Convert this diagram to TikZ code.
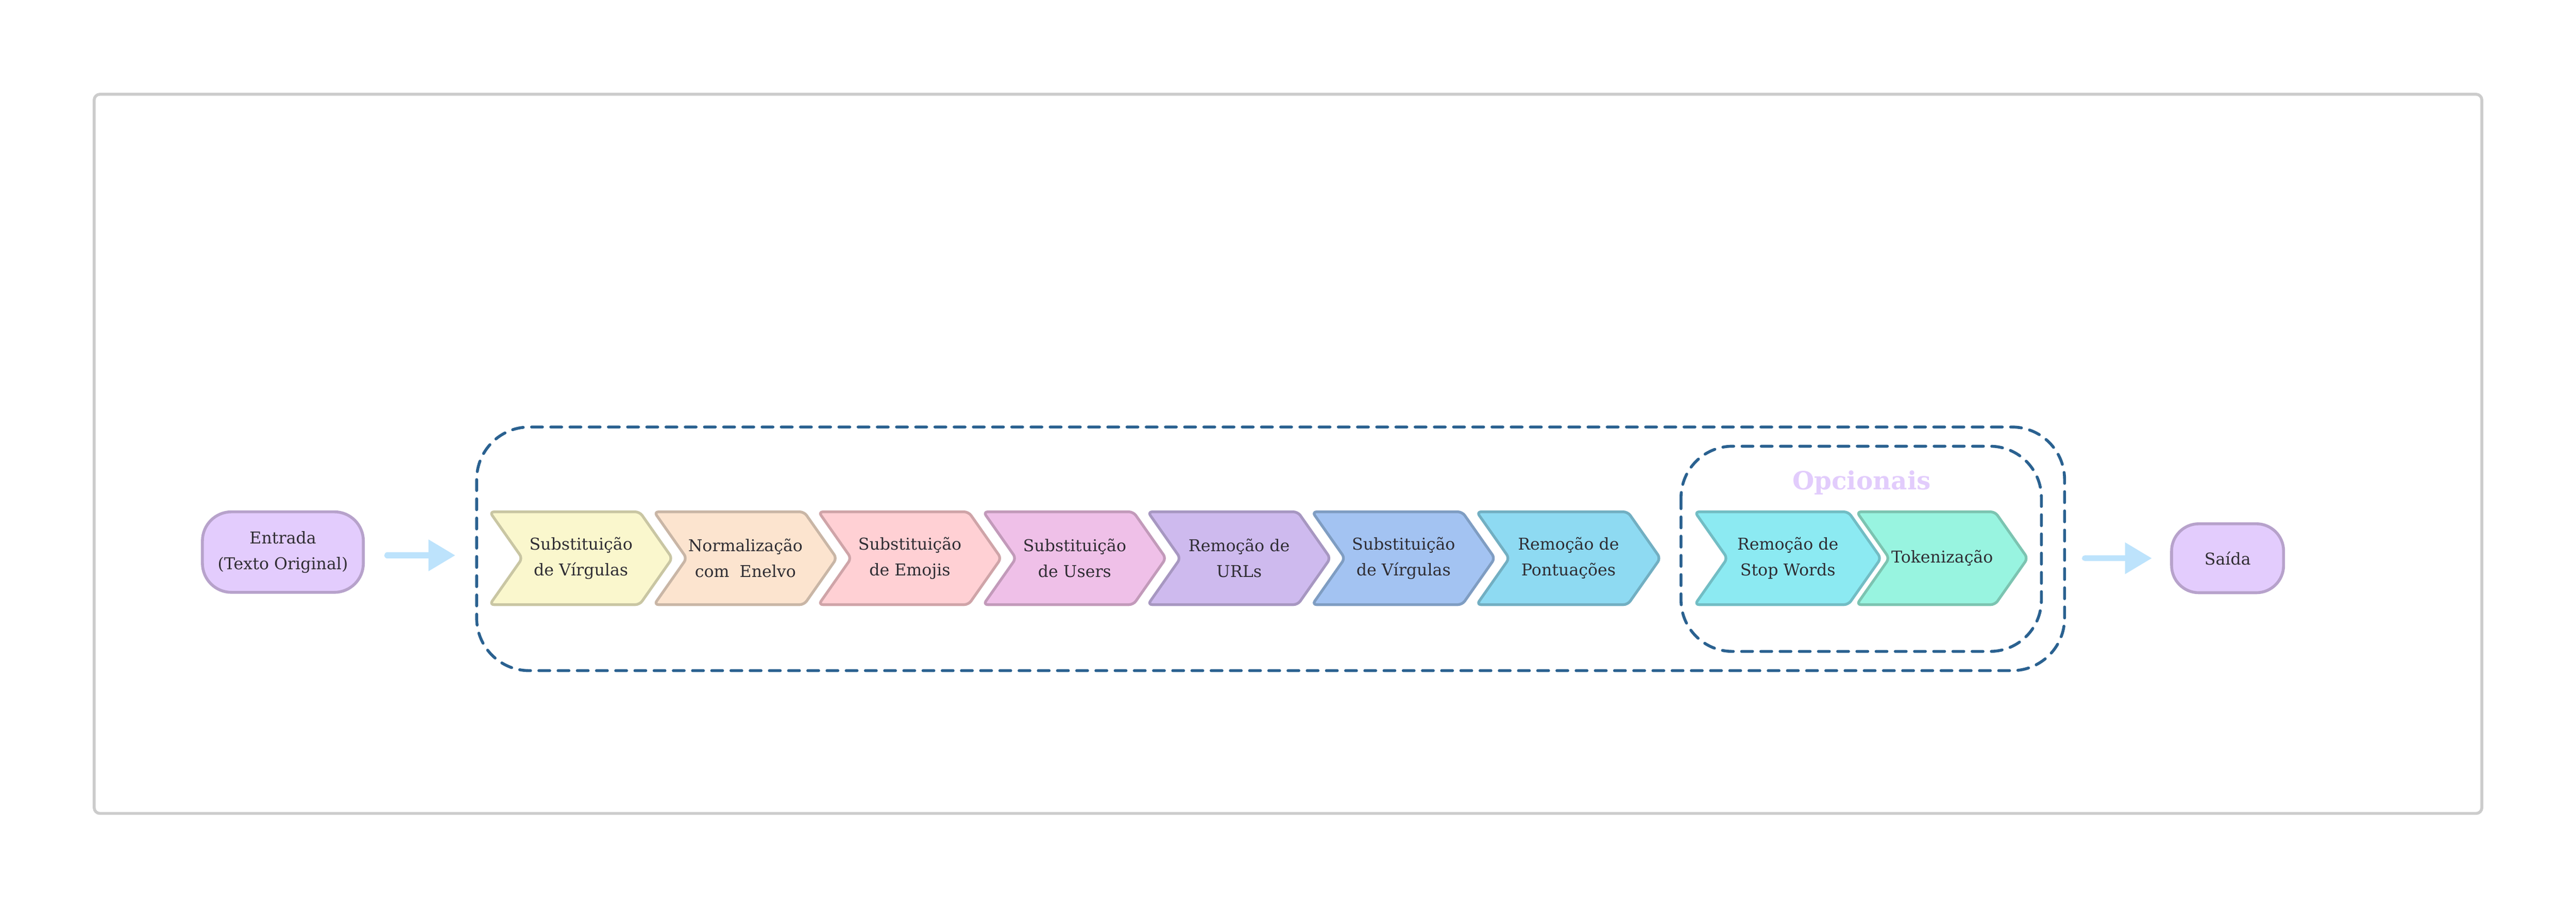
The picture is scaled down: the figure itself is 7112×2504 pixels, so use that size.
\documentclass[tikz,border=0pt]{standalone}
\usepackage{fontspec}
\setmainfont{DejaVu Serif}
\usetikzlibrary{arrows.meta,calc}
\definecolor{framegray}{HTML}{CCCCCC}
\definecolor{dashblue}{HTML}{2A6190}
\definecolor{arrowblue}{HTML}{BDE3FC}
\definecolor{termfill}{HTML}{E3CCFD}
\definecolor{termdraw}{HTML}{B7A2CB}
\definecolor{opttext}{HTML}{E2CCFC}
\definecolor{txt}{HTML}{2F2D33}
\definecolor{cAf}{HTML}{FAF7CD}\definecolor{cAd}{HTML}{C9C6A3}
\definecolor{cBf}{HTML}{FCE4CF}\definecolor{cBd}{HTML}{C9B6A6}
\definecolor{cCf}{HTML}{FFD0D4}\definecolor{cCd}{HTML}{CFA4A8}
\definecolor{cDf}{HTML}{EFC0E8}\definecolor{cDd}{HTML}{C29ABA}
\definecolor{cEf}{HTML}{CEBAEE}\definecolor{cEd}{HTML}{A797C1}
\definecolor{cFf}{HTML}{A3C3F2}\definecolor{cFd}{HTML}{7F9DC2}
\definecolor{cGf}{HTML}{8EDAF2}\definecolor{cGd}{HTML}{72AFC2}
\definecolor{cHf}{HTML}{8CEAF2}\definecolor{cHd}{HTML}{72BDC4}
\definecolor{cIf}{HTML}{98F4E0}\definecolor{cId}{HTML}{7CC4B1}
\newcommand{\chevfont}{\fontsize{12.8}{20.2}\selectfont}
\newcommand{\optfont}{\fontsize{19.6}{24}\selectfont\bfseries}
% #1 name, #2 stroke-left x, #3 width, #4 fill, #5 draw, #6 text
\newcommand{\chevdraw}[6]{%
  \draw[chevline, fill=#4, draw=#5] (#2,1412) -- ++(#3-90,0) -- ++(90,128)
     -- ++(-90,128) -- ++(-#3+90,0) -- ++(90,-128) -- cycle;
  \node[chevtext] (#1) at (#2+#3/2,1540) {#6};
}
\begin{document}
\begin{tikzpicture}[x=0.01cm,y=-0.01cm,
  chevline/.style={line width=0.075cm, rounded corners=0.12cm, line join=round},
  chevtext/.style={align=center, text=txt, font=\chevfont, inner sep=0pt},
  term/.style={rounded corners=0.8cm, fill=termfill, draw=termdraw, line width=0.08cm,
     align=center, font=\chevfont, text=txt, inner sep=0pt},
  dashbox/.style={draw=dashblue, line width=0.08cm, dash pattern=on 0.3cm off 0.23cm, line cap=round},
  flow/.style={draw=arrowblue, line width=0.16cm, line cap=round,
     -{Triangle[length=0.74cm, width=0.83cm]}},
]
\useasboundingbox (0,0) rectangle (7112,2504);
\fill[white] (0,0) rectangle (7112,2504);
% outer frame
\draw[framegray, line width=0.08cm, rounded corners=0.16cm] (260,260) rectangle (6852,2244);
% dashed groups
\draw[dashbox, rounded corners=1.45cm] (1316,1178) rectangle (5700,1850);
\draw[dashbox, rounded corners=1.42cm] (4641,1231) rectangle (5636,1797);
\node[font=\optfont, text=opttext, inner sep=0pt] (opc) at (5140,1332) {Opcionais};
% terminals
\node[term, minimum width=4.44cm, minimum height=2.22cm] (entrada) at (781,1523) {Entrada\\(Texto Original)};
\node[term, minimum width=3.09cm, minimum height=1.90cm, rounded corners=0.75cm] (saida) at (6150,1540) {Saída};
% chevrons
\chevdraw{s1}{1352}{504}{cAf}{cAd}{Substituição\\de Vírgulas}
\chevdraw{s2}{1806}{504}{cBf}{cBd}{Normalização\\com\ \ Enelvo}
\chevdraw{s3}{2260}{504}{cCf}{cCd}{Substituição\\de Emojis}
\chevdraw{s4}{2715}{504}{cDf}{cDd}{Substituição\\de Users}
\chevdraw{s5}{3169}{504}{cEf}{cEd}{Remoção de\\URLs}
\chevdraw{s6}{3623}{504}{cFf}{cFd}{Substituição\\de Vírgulas}
\chevdraw{s7}{4077}{507}{cGf}{cGd}{Remoção de\\Pontuações}
\chevdraw{s8}{4679}{514}{cHf}{cHd}{Remoção de\\Stop Words}
\chevdraw{s9}{5126}{472}{cIf}{cId}{Tokenização}
% arrows
\coordinate (a1s) at (1069,1532);
\coordinate (a1e) at (1257,1532);
\coordinate (a2s) at (5756,1540);
\coordinate (a2e) at (5941,1540);
\draw[flow] (a1s) -- (a1e);
\draw[flow] (a2s) -- (a2e);
\end{tikzpicture}
\end{document}
